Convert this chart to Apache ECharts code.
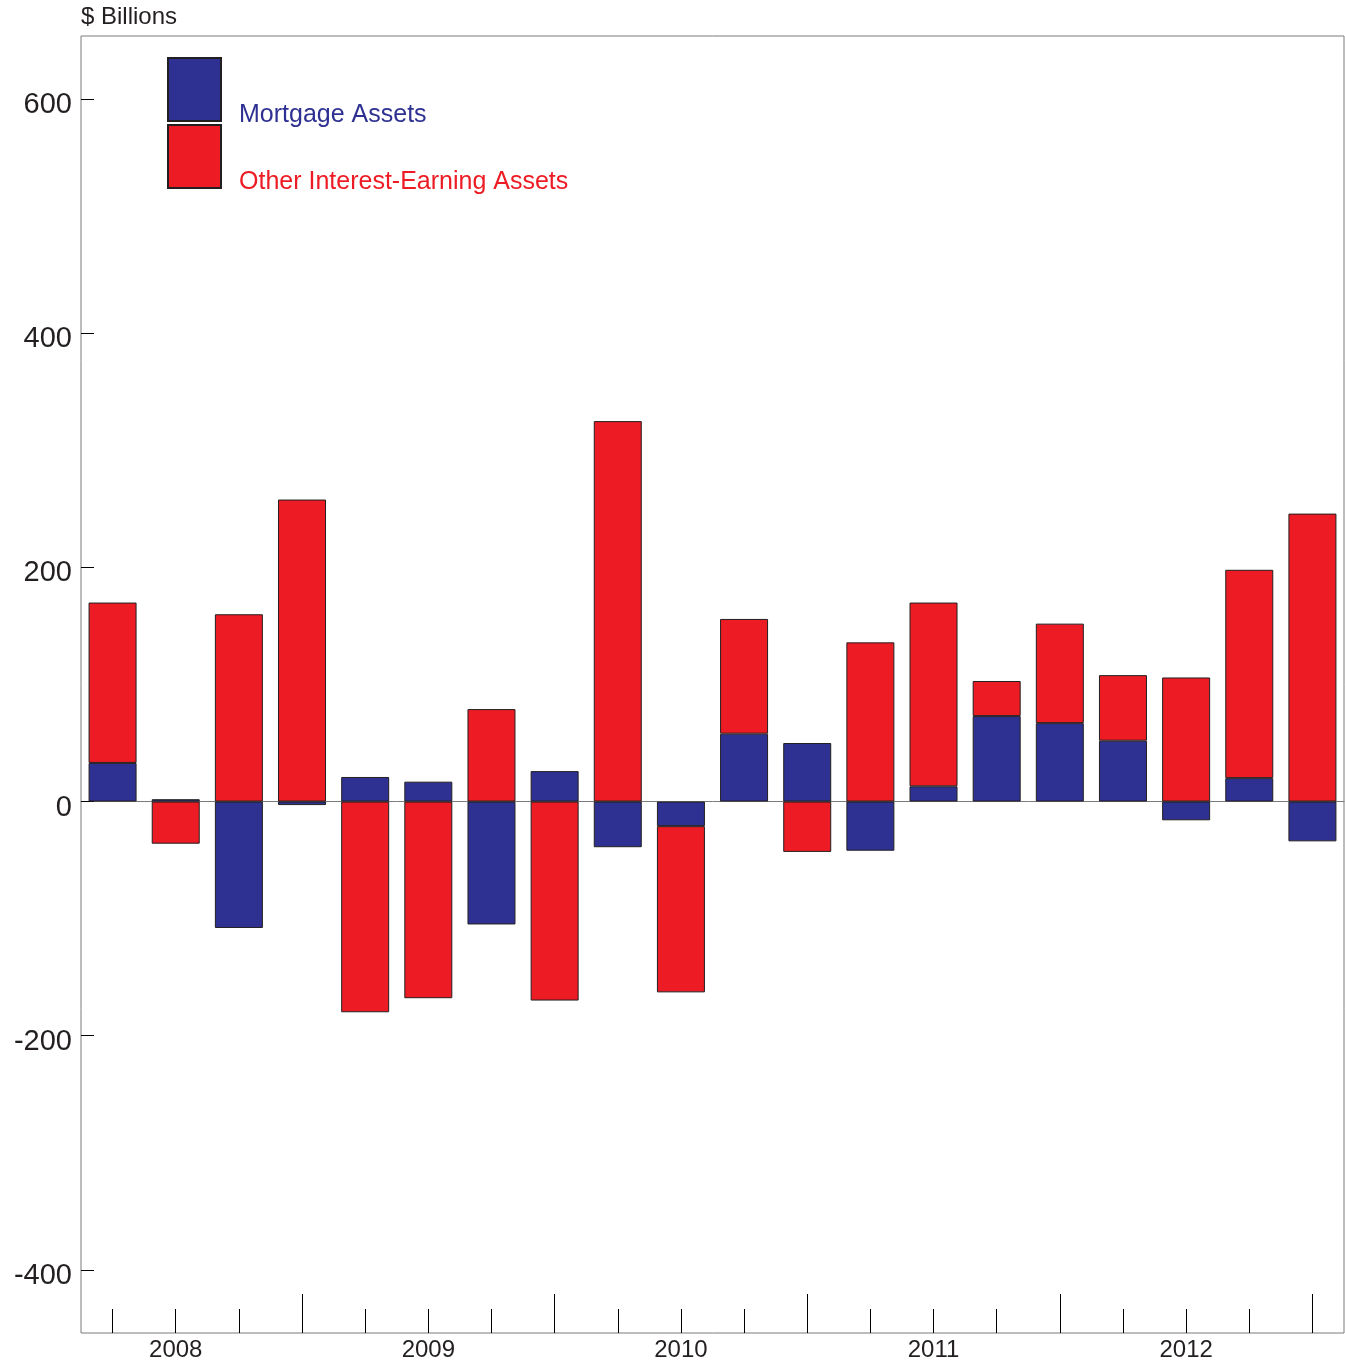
<!DOCTYPE html>
<html>
<head>
    <meta charset="utf-8" />
    <title>Mortgage Assets / Other Interest-Earning Assets</title>
    <script src="https://cdn.jsdelivr.net/npm/echarts@6/dist/echarts.min.js"></script>
    <style>
        html, body { margin: 0; padding: 0; background: #fff; }
    </style>
</head>
<body>
    <div id="chart" style="width: 1345px;height: 1363px;"></div>

<script type="text/javascript">
    // quarterly changes, $ billions, 2008 Q1 .. 2012 Q4
    var quarters = [
        '2008 Q1', '2008 Q2', '2008 Q3', '2008 Q4',
        '2009 Q1', '2009 Q2', '2009 Q3', '2009 Q4',
        '2010 Q1', '2010 Q2', '2010 Q3', '2010 Q4',
        '2011 Q1', '2011 Q2', '2011 Q3', '2011 Q4',
        '2012 Q1', '2012 Q2', '2012 Q3', '2012 Q4'
    ];
    var mortgage = [33, 2, -108, -3, 21, 17, -105, 26, -39, -21, 58, 50, -42, 13, 73, 67, 52, -16, 20, -34];
    var other = [137, -36, 160, 258, -180, -168, 79, -170, 325, -142, 98, -43, 136, 157, 30, 85, 56, 106, 178, 246];
    var yTicks = [-400, -200, 0, 200, 400, 600];

    var blue = '#2E3192';
    var red = '#ED1C24';
    var ink = '#231F20';
    var font = 'Liberation Sans, Arial, sans-serif';

    var chart = echarts.init(document.getElementById('chart'));

    // one legend per entry so each box sits where it should;
    // the empty first line drops the name down beside the box bottom
    function legendFor(name, color, top) {
        return {
            orient: 'vertical',
            left: 167,
            top: top,
            padding: 0,
            itemWidth: 53,
            itemHeight: 63,
            icon: 'rect',
            selectedMode: false,
            formatter: function (n) { return '\n' + n; },
            textStyle: { fontSize: 25, lineHeight: 52, fontFamily: font, color: color, padding: [0, 0, 0, 13] },
            data: [name]
        };
    }

    var option = {
        animation: false,
        backgroundColor: '#fff',
        title: {
            text: '$ Billions',
            left: 81,
            top: 5,
            padding: 0,
            textStyle: { fontSize: 24, fontWeight: 'normal', color: ink, fontFamily: font }
        },
        legend: [
            legendFor('Mortgage Assets', blue, 37.5),
            legendFor('Other Interest-Earning Assets', red, 104.5)
        ],
        grid: {
            left: 81,
            right: 1,
            top: 36,
            bottom: 30,
            show: true,
            borderColor: '#7a7a7a',
            borderWidth: 1,
            backgroundColor: 'transparent'
        },
        xAxis: [
            {
                // quarter ticks + year labels
                type: 'category',
                data: quarters,
                position: 'bottom',
                axisLine: { show: false, onZero: false },
                axisTick: {
                    show: true,
                    inside: true,
                    length: 24,
                    alignWithLabel: true,
                    interval: function (idx) { return true; },
                    lineStyle: { color: '#000', width: 1 }
                },
                axisLabel: {
                    interval: function (idx) { return idx % 4 === 1; },
                    formatter: function (v) { return v.slice(0, 4); },
                    fontSize: 24,
                    color: ink,
                    fontFamily: font,
                    margin: 5
                },
                splitLine: { show: false }
            },
            {
                // year-end ticks
                type: 'category',
                data: quarters,
                position: 'bottom',
                axisLine: { show: false, onZero: false },
                axisTick: {
                    show: true,
                    inside: true,
                    length: 39,
                    alignWithLabel: true,
                    interval: function (idx) { return idx % 4 === 3; },
                    lineStyle: { color: '#000', width: 1 }
                },
                axisLabel: { show: false },
                splitLine: { show: false }
            },
            {
                // zero line
                type: 'category',
                data: quarters,
                axisLine: { show: true, onZero: true, lineStyle: { color: '#7a7a7a', width: 1 } },
                axisTick: { show: false },
                axisLabel: { show: false },
                splitLine: { show: false }
            }
        ],
        yAxis: {
            type: 'value',
            min: -454,
            max: 654,
            axisLine: { show: false },
            axisTick: {
                show: true,
                inside: true,
                length: 13,
                customValues: yTicks,
                lineStyle: { color: '#000', width: 1 }
            },
            axisLabel: {
                customValues: yTicks,
                fontSize: 29,
                color: ink,
                fontFamily: font,
                margin: 9,
                verticalAlign: 'top',
                lineHeight: 12
            },
            splitLine: { show: false }
        },
        series: [
            {
                name: 'Mortgage Assets',
                type: 'bar',
                stack: 'total',
                barWidth: 48,
                data: mortgage,
                itemStyle: { color: blue, borderColor: ink, borderWidth: 1 }
            },
            {
                name: 'Other Interest-Earning Assets',
                type: 'bar',
                stack: 'total',
                barWidth: 48,
                data: other,
                itemStyle: { color: red, borderColor: ink, borderWidth: 1 }
            }
        ]
    };

    chart.setOption(option);
</script>
</body>
</html>
